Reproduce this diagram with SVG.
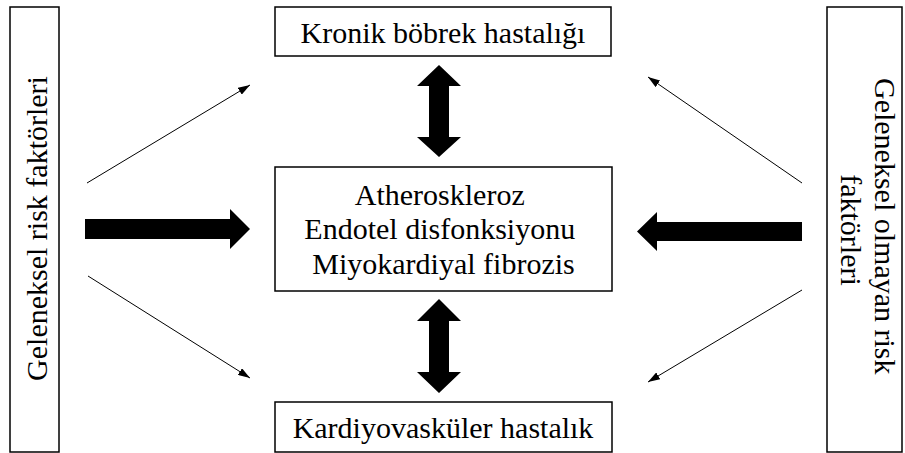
<svg xmlns="http://www.w3.org/2000/svg" width="905" height="453" viewBox="0 0 905 453">
  <style>
    .box { fill: #ffffff; stroke: #000000; stroke-width: 1.5; }
    .lbl { font-family: "Liberation Serif", "Times New Roman", serif; font-size: 30px; fill: #000000; text-anchor: middle; }
    .thin { stroke: #000000; stroke-width: 1; fill: none; marker-end: url(#tip); }
    .thick { fill: #000000; stroke: none; }
  </style>
  <defs>
    <marker id="tip" viewBox="0 0 12 8" refX="12" refY="4" markerWidth="12" markerHeight="8" markerUnits="userSpaceOnUse" orient="auto">
      <path d="M0,0 L12,4 L0,8 Z" fill="#000000"/>
    </marker>
  </defs>
  <rect x="0" y="0" width="905" height="453" fill="#ffffff"/>

  <g id="geleneksel">
    <rect class="box" x="10" y="7" width="49" height="445"/>
    <text class="lbl" transform="translate(47,228.5) rotate(-90)" x="0" y="0">Geleneksel risk faktörleri</text>
  </g>

  <g id="geleneksel-olmayan">
    <rect class="box" x="827" y="7" width="75" height="445"/>
    <text class="lbl" transform="translate(875,230) rotate(90)">
      <tspan x="0" y="0">Geleneksel olmayan risk</tspan>
      <tspan x="0" y="34.5">faktörleri</tspan>
    </text>
  </g>

  <g id="kronik">
    <rect class="box" x="275" y="7" width="336" height="49"/>
    <text class="lbl" x="443" y="43">Kronik böbrek hastalığı</text>
  </g>

  <g id="merkez">
    <rect class="box" x="275" y="167" width="337" height="124"/>
    <text class="lbl">
      <tspan x="443.5" y="204.5">Atheroskleroz</tspan>
      <tspan x="443.5" y="239">Endotel disfonksiyonu</tspan>
      <tspan x="443.5" y="273.5">Miyokardiyal fibrozis</tspan>
    </text>
  </g>

  <g id="kardiyovaskuler">
    <rect class="box" x="275" y="402" width="337" height="50"/>
    <text class="lbl" x="443" y="438">Kardiyovasküler hastalık</text>
  </g>

  <g id="connectors">
    <line class="thin" x1="87" y1="183" x2="250" y2="85"/>
    <line class="thin" x1="88" y1="276" x2="250" y2="378"/>
    <line class="thin" x1="802" y1="183" x2="648" y2="77"/>
    <line class="thin" x1="802" y1="290" x2="648" y2="382"/>
    <polygon class="thick" points="85,219 230,219 230,209 250,229 230,249 230,239 85,239"/>
    <polygon class="thick" points="802,222 657,222 657,212 637,231.5 657,251 657,241 802,241"/>
    <polygon class="thick" points="439,65 461,86 449,86 449,137 461,137 439,157 417,137 429,137 429,86 417,86"/>
    <polygon class="thick" points="439,299 461,321 449,321 449,372 461,372 439,393 417,372 429,372 429,321 417,321"/>
  </g>
</svg>
